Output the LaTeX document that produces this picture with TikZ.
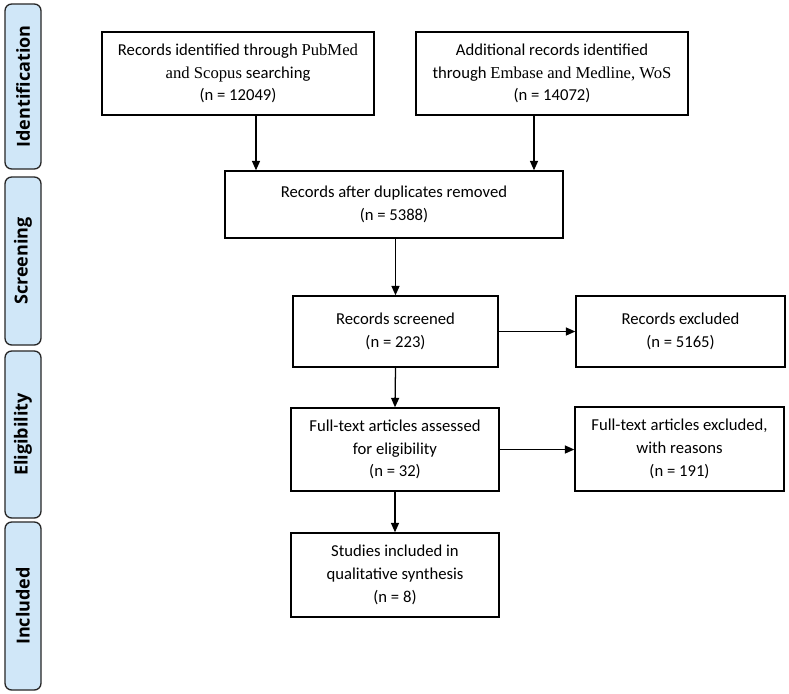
\documentclass[tikz,border=0pt]{standalone}
\usepackage{fontspec}
\setmainfont{Carlito}
\newfontfamily\tnr{Liberation Serif}
\newfontfamily\tabfnt{Open Sans}
\usetikzlibrary{arrows.meta}
\definecolor{tabblue}{RGB}{208,231,248}
\tikzstyle{box}=[rectangle, draw=black, line width=1.1pt, fill=white, align=center, inner sep=0pt, anchor=center, font=\fontsize{12.5}{17}\selectfont]
\tikzstyle{stage}=[rectangle, rounded corners=5pt, draw=black!85, line width=1pt, fill=tabblue, rotate=90, minimum height=27pt, inner sep=0pt, font=\tabfnt\bfseries\fontsize{13.5}{15}\selectfont]
\tikzstyle{arr}=[line width=0.95pt, -{Triangle[length=7pt,width=6pt]}]

\begin{document}
\begin{tikzpicture}[x=0.75pt, y=-0.75pt]
	\fill[white] (0,0) rectangle (789,693);
	\useasboundingbox (0,0) rectangle (789,693);

	% stages
	\node[stage, minimum width=123.75pt](sid) at (23,86.5){Identification};
	\node[stage, minimum width=126pt](sscr) at (23,261){Screening};
	\node[stage, minimum width=125.25pt](selig) at (23,434.5){Eligibility};
	\node[stage, minimum width=126pt](sinc) at (23,606){Included};

	% boxes
	\node[box, minimum width=204pt, minimum height=62.25pt](pubmed) at (238,73.5){Records identified through {\tnr PubMed}\\{\tnr and Scopus} searching\\(n = 12049)};
	\node[box, minimum width=204pt, minimum height=62.25pt](embase) at (552,73.5){Additional records identified\\through {\tnr Embase and Medline, WoS}\\(n = 14072)};
	\node[box, minimum width=253.5pt, minimum height=50.25pt](dup) at (394,204.5){Records after duplicates removed\\(n = 5388)};
	\node[box, minimum width=153.75pt, minimum height=53.25pt](screened) at (395.5,331.5){Records screened\\(n = 223)};
	\node[box, minimum width=156.75pt, minimum height=53.25pt](excl) at (680.5,331.5){Records excluded\\(n = 5165)};
	\node[box, minimum width=156pt, minimum height=62.25pt](fulltext) at (395,449.5){Full-text articles assessed\\for eligibility\\(n = 32)};
	\node[box, minimum width=156.75pt, minimum height=63pt](reasons) at (679.5,449){Full-text articles excluded,\\with reasons\\(n = 191)};
	\node[box, minimum width=156pt, minimum height=63pt](incl) at (395,575){Studies included in\\qualitative synthesis\\(n = 8)};

	% arrows
	\draw[arr] ([xshift=13.5pt]pubmed.south) -- ([xshift=13.5pt]pubmed.south |- dup.north);
	\draw[arr] ([xshift=-13.5pt]embase.south) -- ([xshift=-13.5pt]embase.south |- dup.north);
	\draw[arr] (dup.south -| screened.north) -- (screened.north);
	\draw[arr] (screened.east) -- (excl.west);
	\draw[arr] (screened.south) -- (fulltext.north);
	\draw[arr] (fulltext.east) -- (fulltext.east -| reasons.west);
	\draw[arr] (fulltext.south) -- (incl.north);
\end{tikzpicture}
\end{document}
